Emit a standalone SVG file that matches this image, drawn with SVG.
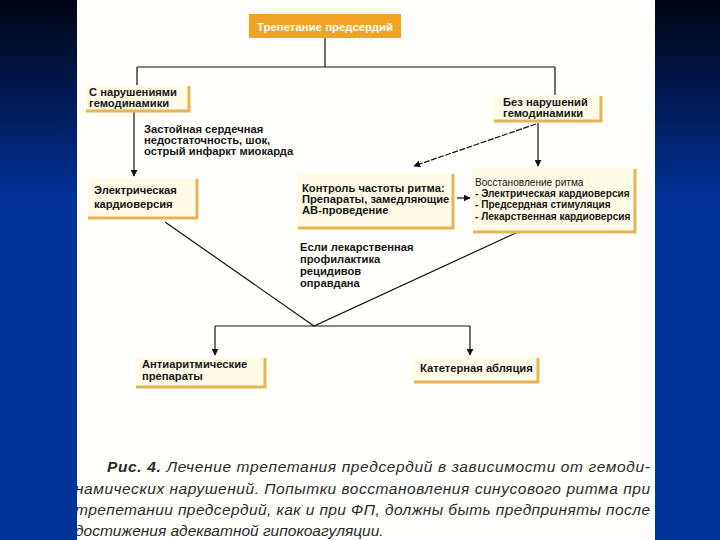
<svg xmlns="http://www.w3.org/2000/svg" width="720" height="540" viewBox="0 0 720 540">
<defs>
<linearGradient id="bg" x1="0" y1="0" x2="0" y2="1">
<stop offset="0" stop-color="#000514"/>
<stop offset="0.18" stop-color="#001a55"/>
<stop offset="0.38" stop-color="#00339a"/>
<stop offset="1" stop-color="#003399"/>
</linearGradient>
<clipPath id="page"><rect x="77" y="0" width="578" height="540"/></clipPath>
<marker id="ah" viewBox="0 0 10 10" refX="9" refY="5" markerWidth="7" markerHeight="7" markerUnits="userSpaceOnUse" orient="auto">
<path d="M0,0 L10,5 L0,10 z" fill="#111"/>
</marker>
<style>
.box{fill:#fffbe6}
.sh{fill:none;stroke:#e6b455;stroke-width:3}
.t{font-family:"Liberation Sans",Arial,sans-serif;font-weight:bold;font-size:11.2px;fill:#151515}
.s{font-size:10.1px}
.ln{fill:none;stroke:#111;stroke-width:1.2}
.cap{font-family:"Liberation Sans",Arial,sans-serif;font-style:italic;font-size:15.5px;fill:#2a2a2a}
</style>
</defs>
<rect x="0" y="0" width="720" height="540" fill="url(#bg)"/>
<rect x="77" y="0" width="578" height="540" fill="#fffffc"/>

<g id="connectors">
<path class="ln" d="M325,38 V67 M137,67 H555 M137,67 V85 M555,67 V95"/>
<path class="ln" d="M134,111 V176" marker-end="url(#ah)"/>
<path class="ln" d="M538,123 V166" marker-end="url(#ah)"/>
<path class="ln" d="M536,124 L414,166" stroke-dasharray="6,1.5" marker-end="url(#ah)"/>
<path class="ln" d="M457,198 H470" marker-end="url(#ah)"/>
<path class="ln" d="M165,222 L314,326 L518,232"/>
<path class="ln" d="M215,326 H470"/>
<path class="ln" d="M215,326 V355" marker-end="url(#ah)"/>
<path class="ln" d="M470,326 V355" marker-end="url(#ah)"/>
</g>

<g id="n-top">
<rect x="249" y="14" width="152" height="24" fill="#f2a323"/>
<text x="325" y="30.5" text-anchor="middle" class="t" style="fill:#fff;font-size:11.4px">Трепетание предсердий</text>
</g>

<g id="n-with">
<rect class="box" x="85" y="85" width="105" height="26"/>
<path class="sh" d="M189,86 V111 H86"/>
<text class="t" x="89" y="96">С нарушениями</text>
<text class="t" x="89" y="107">гемодинамики</text>
</g>

<g id="n-without">
<rect class="box" x="493" y="95" width="109" height="27"/>
<path class="sh" d="M601,96 V121 H494"/>
<text class="t" x="503" y="106">Без нарушений</text>
<text class="t" x="503" y="117">гемодинамики</text>
</g>

<g id="l-cond">
<text class="t" x="144" y="133">Застойная сердечная</text>
<text class="t" x="144" y="144">недостаточность, шок,</text>
<text class="t" x="144" y="155">острый инфаркт миокарда</text>
</g>

<g id="n-elec">
<rect class="box" x="87" y="178" width="111" height="40"/>
<path class="sh" d="M197,179 V218 H88"/>
<text class="t" x="94" y="194">Электрическая</text>
<text class="t" x="94" y="208">кардиоверсия</text>
</g>

<g id="n-rate">
<rect class="box" x="297" y="173" width="157" height="55"/>
<path class="sh" d="M453,174 V228 H298"/>
<text class="t" x="302" y="192">Контроль частоты ритма:</text>
<text class="t" x="302" y="203">Препараты, замедляющие</text>
<text class="t" x="302" y="214">АВ-проведение</text>
</g>

<g id="n-restore">
<rect class="box" x="472" y="168" width="164" height="64"/>
<path class="sh" d="M635,169 V232 H473"/>
<text class="t s" x="475" y="186" style="font-weight:normal">Восстановление ритма</text>
<text class="t s" x="475" y="197">- Электрическая кардиоверсия</text>
<text class="t s" x="475" y="208">- Предсердная стимуляция</text>
<text class="t s" x="475" y="220">- Лекарственная кардиоверсия</text>
</g>

<g id="l-if">
<text class="t" x="300" y="251">Если лекарственная</text>
<text class="t" x="300" y="263">профилактика</text>
<text class="t" x="300" y="275">рецидивов</text>
<text class="t" x="300" y="287">оправдана</text>
</g>

<g id="n-anti">
<rect class="box" x="135" y="357" width="131" height="30"/>
<path class="sh" d="M265,358 V387 H136"/>
<text class="t" x="142" y="368">Антиаритмические</text>
<text class="t" x="142" y="380">препараты</text>
</g>

<g id="n-abl">
<rect class="box" x="413" y="357" width="126" height="25"/>
<path class="sh" d="M538,358 V382 H414"/>
<text class="t" x="420" y="372">Катетерная абляция</text>
</g>

<g id="caption" clip-path="url(#page)">
<text class="cap" x="107" y="472" textLength="543" lengthAdjust="spacing"><tspan font-weight="bold">Рис. 4.</tspan> Лечение трепетания предсердий в зависимости от гемоди-</text>
<text class="cap" x="75" y="494" textLength="575" lengthAdjust="spacing">намических нарушений. Попытки восстановления синусового ритма при</text>
<text class="cap" x="75" y="515" textLength="575" lengthAdjust="spacing">трепетании предсердий, как и при ФП, должны быть предприняты после</text>
<text class="cap" x="75" y="536">достижения адекватной гипокоагуляции.</text>
</g>
</svg>
